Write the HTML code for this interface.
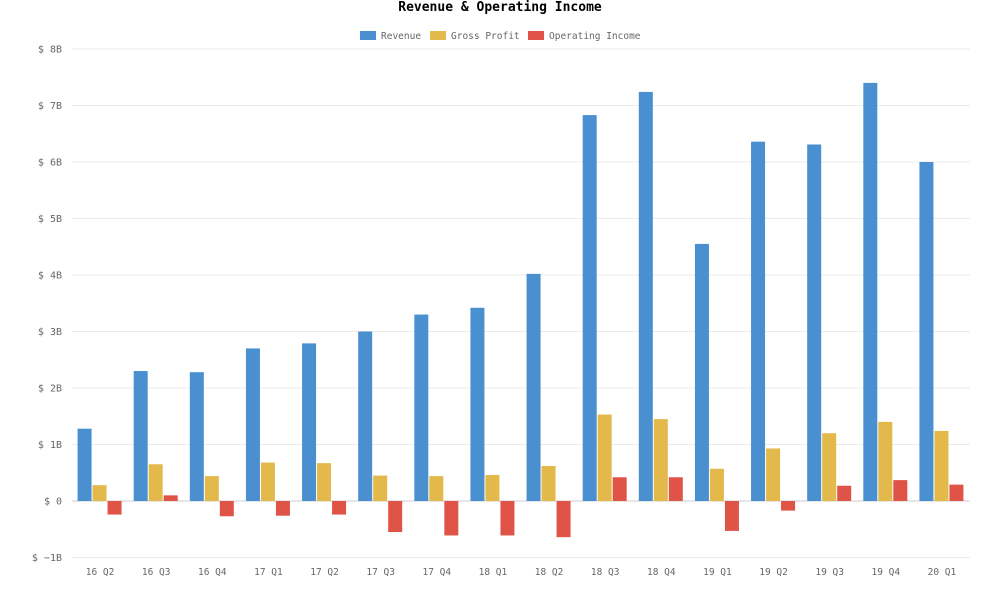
<!DOCTYPE html>
<html><head><meta charset="utf-8"><style>
body{margin:0;background:#fff;width:1000px;height:592px;overflow:hidden;font-family:"DejaVu Sans Mono","Liberation Mono",monospace}
</style></head><body>
<svg id="chart" width="1000" height="592" xmlns="http://www.w3.org/2000/svg">
<text x="500" y="11" text-anchor="middle" font-weight="bold" font-size="13" fill="#000" font-family="DejaVu Sans Mono, monospace">Revenue &amp; Operating Income</text>
<g font-size="9.5" fill="#666" font-family="DejaVu Sans Mono, monospace">
<g><rect x="360" y="31" width="16" height="9" fill="#4a8fd0"/><text x="381" y="39">Revenue</text></g>
<g><rect x="430" y="31" width="16" height="9" fill="#e2b94a"/><text x="451" y="39">Gross Profit</text></g>
<g><rect x="528" y="31" width="16" height="9" fill="#e05448"/><text x="549" y="39">Operating Income</text></g>
</g>
<g id="grid"></g>
<g id="bars"></g>
<g id="xlabels"></g>
</svg>
<script>
const categories=["16 Q2","16 Q3","16 Q4","17 Q1","17 Q2","17 Q3","17 Q4","18 Q1","18 Q2","18 Q3","18 Q4","19 Q1","19 Q2","19 Q3","19 Q4","20 Q1"];
const revenue=[1.28,2.3,2.28,2.7,2.79,3.0,3.3,3.42,4.02,6.83,7.24,4.55,6.36,6.31,7.4,6.0];
const grossProfit=[0.28,0.65,0.44,0.68,0.67,0.45,0.44,0.46,0.62,1.53,1.45,0.57,0.93,1.2,1.4,1.24];
const operatingIncome=[-0.24,0.1,-0.27,-0.26,-0.24,-0.55,-0.61,-0.61,-0.64,0.42,0.42,-0.53,-0.17,0.27,0.37,0.29];
const yTicks=[-1,0,1,2,3,4,5,6,7,8];
const yTickLabels=["$ −1B","$ 0","$ 1B","$ 2B","$ 3B","$ 4B","$ 5B","$ 6B","$ 7B","$ 8B"];
const NS="http://www.w3.org/2000/svg";
const L=72,R=970,Y0=501,PX=56.5;
const y=v=>Y0-v*PX;
const bw=(R-L)/categories.length;
const x=i=>L+bw*i;
function mk(t,a,p){const e=document.createElementNS(NS,t);for(const k in a)e.setAttribute(k,a[k]);p.appendChild(e);return e;}
const grid=document.getElementById('grid');
yTicks.forEach((v,i)=>{
  const l=mk('line',{x1:L,x2:R,y1:y(v),y2:y(v),stroke:v===0?'#ccc':'#ebebeb','stroke-width':1},grid);
  
  
  const t=mk('text',{x:62,y:y(v)+3.5,'text-anchor':'end','font-size':10,fill:'#666'},grid);
  
  
  t.textContent=yTickLabels[i];
});
const bars=document.getElementById('bars');
const series=[[revenue,'#4a8fd0','revenue'],[grossProfit,'#e2b94a','gross-profit'],[operatingIncome,'#e05448','operating-income']];
const barW=14;
categories.forEach((c,i)=>{
  const cx=x(i)+bw/2;
  series.forEach((s,j)=>{
    const v=s[0][i];
    const bx=cx-22.5+j*15;
    const top=Math.min(y(v),Y0),h=Math.abs(y(v)-Y0);
    const r=mk('rect',{x:bx,y:top,width:barW,height:h,fill:s[1]},bars);
    
    
  });
});
const xl=document.getElementById('xlabels');
categories.forEach((c,i)=>{
  const t=mk('text',{x:x(i)+bw/2,y:575,'text-anchor':'middle','font-size':9.5,fill:'#666'},xl);
  
  
  t.textContent=c;
});
</script>
</body></html>
